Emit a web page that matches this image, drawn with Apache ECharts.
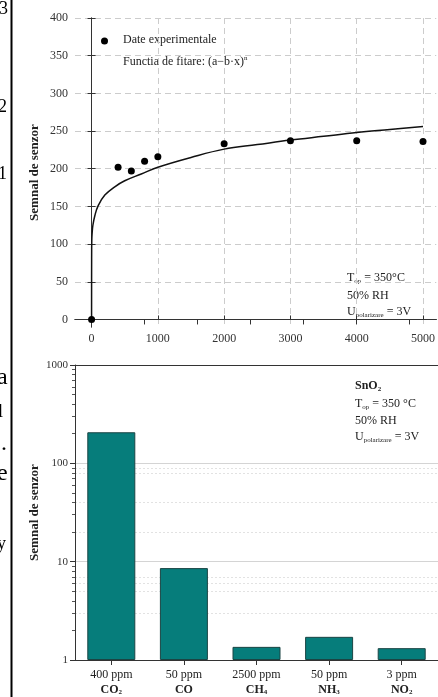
<!DOCTYPE html>
<html><head><meta charset="utf-8">
<script src="https://cdn.jsdelivr.net/npm/echarts@6/dist/echarts.min.js"></script>
<style>html,body{margin:0;padding:0;background:#fff}#c{width:438px;height:697px}</style>
</head><body><div id="c"></div><script>
// ---- top chart data ----
const expX = [0, 400, 600, 800, 1000, 2000, 3000, 4000, 5000];
const expY = [0, 202, 197, 210, 216, 233, 237, 237, 236];
const fitX = [0, 1, 3, 8, 20, 50, 100, 200, 350, 500, 750, 1000, 1500, 2000, 2500, 3000, 3500, 4000, 4500, 5000];
const fitY = [0, 80, 104, 114, 125, 138, 151, 165, 176, 184, 193, 202, 215, 226, 232, 238, 243, 248, 252, 256];
const xTicks = [0, 1000, 2000, 3000, 4000, 5000];
const topTicks = [800, 1600, 2400, 3200, 4000, 4800];
const yTicks = [0, 50, 100, 150, 200, 250, 300, 350, 400];
// ---- bottom chart data ----
const concentrations = ['400 ppm', '50 ppm', '2500 ppm', '50 ppm', '3 ppm'];
const gasNames = ['CO', 'CO', 'CH', 'NH', 'NO'];
const gasSubs = ['2', '', '4', '3', '2'];
const signal = [207, 8.6, 1.36, 1.72, 1.32];
const minorTicks = [2, 3, 4, 5, 6, 7, 8, 9, 20, 30, 40, 50, 60, 70, 80, 90, 200, 300, 400, 500, 600, 700, 800, 900];
const minorGrid = [3, 5, 6, 7, 20, 40, 80, 90];

const FONT = 'Liberation Serif';
const AX = '#333';
const categories = gasNames.map((g, i) => g + gasSubs[i]);
const expData = expX.map((x, i) => [x, expY[i]]);
const fitData = fitX.map((x, i) => [x, fitY[i]]);
const plain = v => String(v);

const chart = echarts.init(document.getElementById('c'), null, {renderer: 'canvas'});
const subRich = {
  sub: {fontFamily: FONT, fontSize: 7, color: '#222', padding: [6, 0, 0, 0]},
  b: {fontFamily: FONT, fontSize: 12, fontWeight: 'bold', color: '#222'},
  bsub: {fontFamily: FONT, fontSize: 7, fontWeight: 'bold', color: '#222', padding: [6, 0, 0, 0]},
  sup: {fontFamily: FONT, fontSize: 7, color: '#222', padding: [0, 0, 6, 0]}
};
function txt(x, y, text, size) {
  return {
    type: 'text', left: x, top: y,
    style: {text: text, fontFamily: FONT, fontSize: size || 12, fill: size ? '#000' : '#222', rich: subRich}
  };
}
const nameStyle = {fontFamily: FONT, fontSize: 13, fontWeight: 'bold', color: '#222'};

const option = {
  animation: false,
  backgroundColor: '#fff',
  grid: [
    {left: 75, top: 18, width: 364, height: 309},
    {left: 75, top: 365, width: 367, height: 296}
  ],
  xAxis: [
    {
      type: 'value', gridIndex: 0, min: -250, max: 5200, position: 'bottom',
      axisLine: {show: true, lineStyle: {color: AX}},
      axisTick: {show: true, inside: true, length: 4, customValues: xTicks, lineStyle: {color: AX}},
      axisLabel: {customValues: xTicks, formatter: plain, fontFamily: FONT, fontSize: 12, color: '#333', margin: 6},
      splitLine: {show: true, lineStyle: {color: '#ccc', type: [6, 4]}}
    },
    {
      type: 'value', gridIndex: 0, min: -250, max: 5200, position: 'top',
      axisLine: {show: true, lineStyle: {color: AX}},
      axisTick: {show: true, inside: true, length: 5, customValues: topTicks, lineStyle: {color: AX}},
      axisLabel: {show: false}, splitLine: {show: false}
    },
    {
      type: 'category', gridIndex: 1, data: categories, position: 'bottom',
      axisLine: {show: true, lineStyle: {color: AX}},
      axisTick: {show: true, alignWithLabel: true, length: 5, lineStyle: {color: AX}},
      axisLabel: {
        interval: 0, margin: 7, fontFamily: FONT, fontSize: 12, color: '#222', lineHeight: 15,
        formatter: function (v, i) {
          return concentrations[i] + '\n{b|' + gasNames[i] + '}' + (gasSubs[i] ? '{bsub|' + gasSubs[i] + '}' : '');
        },
        rich: {
          b: {fontFamily: FONT, fontSize: 12, fontWeight: 'bold', color: '#222'},
          bsub: {fontFamily: FONT, fontSize: 7, fontWeight: 'bold', color: '#222', padding: [6, 0, 0, 0]}
        }
      },
      splitLine: {show: false}
    },
    {
      type: 'category', gridIndex: 1, data: categories, position: 'top',
      axisLine: {show: true, lineStyle: {color: AX}},
      axisTick: {show: false}, axisLabel: {show: false}, splitLine: {show: false}
    }
  ],
  yAxis: [
    {
      type: 'value', gridIndex: 0, min: -10, max: 400, position: 'left',
      name: 'Semnal de senzor', nameLocation: 'middle', nameGap: 34, nameMoveOverlap: false,
      nameTextStyle: nameStyle,
      axisLine: {show: true, lineStyle: {color: AX}},
      axisTick: {show: true, inside: true, length: 4, customValues: yTicks, lineStyle: {color: AX}},
      axisLabel: {customValues: yTicks, formatter: plain, fontFamily: FONT, fontSize: 12, color: '#333', margin: 7},
      splitLine: {show: true, lineStyle: {color: '#ccc', type: [6, 4]}}
    },
    {
      type: 'value', gridIndex: 0, min: -10, max: 400, position: 'right',
      axisLine: {show: true, lineStyle: {color: AX}},
      axisTick: {show: true, inside: true, length: 4, customValues: yTicks, lineStyle: {color: AX}},
      axisLabel: {show: false}, splitLine: {show: false}
    },
    {
      type: 'log', gridIndex: 1, min: 1, max: 1000, logBase: 10, position: 'left',
      name: 'Semnal de senzor', nameLocation: 'middle', nameGap: 34, nameMoveOverlap: false,
      nameTextStyle: nameStyle,
      axisLine: {show: true, lineStyle: {color: AX}},
      axisTick: {show: true, length: 5, lineStyle: {color: AX}},
      axisLabel: {formatter: plain, fontFamily: FONT, fontSize: 11, color: '#333', margin: 7},
      splitLine: {show: true, lineStyle: {color: '#d4d4d4'}}
    },
    {
      type: 'log', gridIndex: 1, min: 1, max: 1000, logBase: 10, position: 'left',
      axisLine: {show: false},
      axisTick: {show: true, length: 3, customValues: minorTicks, lineStyle: {color: '#555'}},
      axisLabel: {show: false}, splitLine: {show: false}
    },
    {
      type: 'log', gridIndex: 1, min: 1, max: 1000, logBase: 10, position: 'left',
      axisLine: {show: false},
      axisTick: {show: false, customValues: minorGrid},
      axisLabel: {show: false},
      splitLine: {show: true, lineStyle: {color: '#e2e2e2', type: [2, 2]}}
    }
  ],
  series: [
    {
      name: 'Functia de fitare', type: 'line', xAxisIndex: 0, yAxisIndex: 0,
      data: fitData, showSymbol: false, smooth: 0.4,
      lineStyle: {color: '#111', width: 1.5}, z: 3
    },
    {
      name: 'Date experimentale', type: 'scatter', xAxisIndex: 0, yAxisIndex: 0,
      data: expData, symbol: 'circle', symbolSize: 7,
      itemStyle: {color: '#000', opacity: 1}, z: 4
    },
    {
      name: 'Semnal', type: 'bar', xAxisIndex: 2, yAxisIndex: 2,
      data: signal, barWidth: 48,
      itemStyle: {color: '#067d7b', borderColor: '#1b4544', borderWidth: 1}, z: 3
    }
  ],
  graphic: [
    {type: 'circle', shape: {cx: 104.5, cy: 41, r: 3.5}, style: {fill: '#000'}},
    txt(123, 34, 'Date experimentale'),
    txt(123, 55, 'Functia de fitare: (a\u2212b\u00b7x){sup|n}'),
    txt(347, 272, 'T{sub|op} = 350\u00b0C'),
    txt(347, 290, '50% RH'),
    txt(347, 306, 'U{sub|polarizare} = 3V'),
    txt(355, 380, '{b|SnO}{bsub|2}'),
    txt(355, 398, 'T{sub|op} = 350 \u00b0C'),
    txt(355, 415, '50% RH'),
    txt(355, 431, 'U{sub|polarizare} = 3V'),
    {type: 'rect', shape: {x: 10.5, y: 0, width: 2, height: 697}, style: {fill: '#000'}},
    txt(-1, 0, '3', 18),
    txt(-2, 98, '2', 18),
    txt(-2, 165, '1', 18),
    txt(-3, 366, 'a', 24),
    txt(-2, 403, 'l', 18),
    txt(1, 432, '.', 24),
    txt(-3, 462, 'e', 24),
    txt(-3, 535, 'y', 18)
  ]
};
chart.setOption(option);
</script></body></html>
